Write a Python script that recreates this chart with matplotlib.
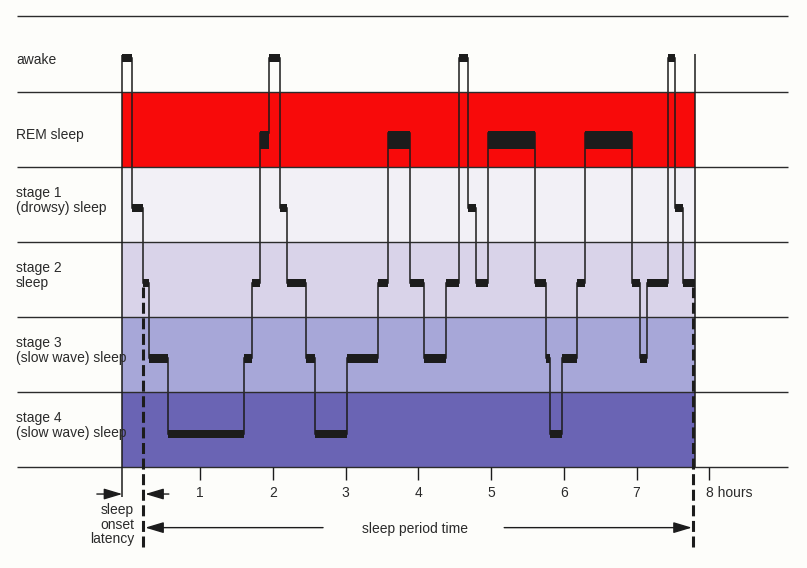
import matplotlib.pyplot as plt

plt.rcParams['font.family'] = ['Liberation Sans', 'DejaVu Sans']
plt.rcParams['font.size'] = 10

# bands, from the bottom up
stage_names = ["S4", "S3", "S2", "S1", "REM", "W"]
stage_labels = [["stage 4", "(slow wave) sleep"],
                ["stage 3", "(slow wave) sleep"],
                ["stage 2", "sleep"],
                ["stage 1", "(drowsy) sleep"],
                ["REM sleep"],
                ["awake"]]
band_colors = ["#6a64b4", "#a7a7d8", "#d9d3e9", "#f2f0f6", "#f80a0a", None]

# hypnogram: stage of each epoch and the times (hours) where it changes
hypno_stages = ["W", "S1", "S2", "S3", "S4", "S3", "S2", "REM",
                "W", "S1", "S2", "S3", "S4", "S3", "S2", "REM",
                "S2", "S3", "S2", "W", "S1", "S2", "REM",
                "S2", "S3", "S4", "S3", "S2", "REM",
                "S2", "S3", "S2", "W", "S1", "S2"]
hypno_edges = [-0.07, 0.06, 0.21, 0.30, 0.56, 1.60, 1.71, 1.82,
               1.95, 2.10, 2.19, 2.46, 2.58, 3.02, 3.45, 3.58,
               3.88, 4.08, 4.38, 4.56, 4.68, 4.79, 4.96,
               5.60, 5.75, 5.81, 5.97, 6.18, 6.29,
               6.94, 7.05, 7.14, 7.43, 7.53, 7.64, 7.80]

hour_ticks = [1, 2, 3, 4, 5, 6, 7, 8]
hour_labels = ["1", "2", "3", "4", "5", "6", "7", "8 hours"]

lights_off = hypno_edges[0]
lights_on = hypno_edges[-1]
sleep_onset = 0.21
sleep_end = 7.78

ink = '#1c1c1c'
txt = '#2a2a2a'

fig = plt.figure(figsize=(8.07, 5.68), dpi=100, facecolor='#fdfdfa')
ax = fig.add_axes([0, 0, 1, 1])
ax.set_xlim(-1.7515, 9.343)
ax.set_ylim(-1.337, 6.219)
ax.axis('off')

# coloured bands
for i, c in enumerate(band_colors):
    if c:
        ax.fill_between([lights_off, lights_on], i, i + 1, color=c, lw=0)

# band lines
ax.hlines(range(len(stage_names) + 1), -1.52, 9.08, color='#2b2b2b', lw=1)

# band labels
for i, lines in enumerate(stage_labels):
    top = i + 1
    if len(lines) == 1:
        ax.text(-1.532, top - 0.63, lines[0], ha='left', va='baseline', color=txt)
    else:
        for k, line in enumerate(lines):
            ax.text(-1.532, top - 0.40 - 0.20 * k, line, ha='left', va='baseline',
                    color=txt)

# hypnogram bars and trace
level = {name: i + 0.45 for i, name in enumerate(stage_names)}
starts = hypno_edges[:-1]
widths = [b - a for a, b in zip(hypno_edges[:-1], hypno_edges[1:])]
for s, x, w in zip(hypno_stages, starts, widths):
    if s == "REM":
        ax.bar(x, 0.24, width=w, bottom=stage_names.index(s) + 0.24, align='edge',
               color=ink, lw=0)
    else:
        ax.bar(x, 0.11, width=w, bottom=level[s] - 0.055, align='edge', color=ink, lw=0)
ax.stairs([level[s] for s in hypno_stages], hypno_edges, baseline=None, color=ink, lw=1.1)

# borders of the recording
ax.vlines(lights_off, -0.39, 5.49, color=ink, lw=1.1)
ax.vlines(lights_on, 0, 5.50, color=ink, lw=1.1)

# hour ticks
ax.vlines(hour_ticks, -0.17, 0, color=ink, lw=1)
for h, lab in zip(hour_ticks, hour_labels):
    if lab.endswith("hours"):
        ax.text(h - 0.05, -0.388, lab, ha='left', va='baseline', color=txt)
    else:
        ax.text(h, -0.388, lab, ha='center', va='baseline', color=txt)

# sleep onset / end
ax.vlines([sleep_onset, sleep_end], -1.06, 2.40, color=ink, lw=2.2,
          linestyles=(0, (3.6, 1.5)))

arrow = dict(arrowstyle='-|>,head_length=0.8,head_width=0.24', color=ink, lw=1,
             mutation_scale=14, shrinkA=0, shrinkB=0)
ax.annotate('', xy=(lights_off, -0.353), xytext=(-0.42, -0.353), arrowprops=arrow)
ax.annotate('', xy=(sleep_onset + 0.035, -0.353), xytext=(0.57, -0.353), arrowprops=arrow)
ax.annotate('', xy=(sleep_onset + 0.035, -0.80), xytext=(2.69, -0.80), arrowprops=arrow)
ax.annotate('', xy=(sleep_end - 0.02, -0.80), xytext=(5.18, -0.80), arrowprops=arrow)

ax.text(3.96, -0.871, "sleep period time", ha='center', va='baseline', color=txt)
for k, line in enumerate(["sleep", "onset", "latency"]):
    ax.text(0.09, -0.625 - 0.19 * k, line, ha='right', va='baseline', color=txt)

fig.savefig('out.png', dpi=100, facecolor=fig.get_facecolor())
